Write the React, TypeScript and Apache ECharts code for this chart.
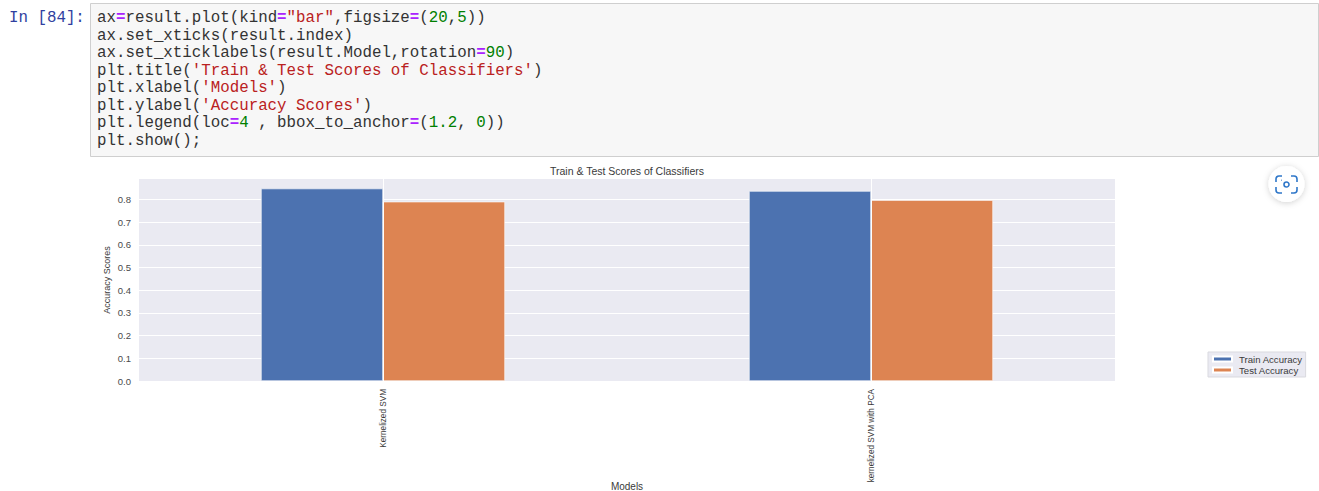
import React, { useEffect, useRef } from "react";
import * as echarts from "echarts";

const categories = ["Kernelized SVM", "kernelized SVM with PCA"];
const trainAccuracy = [0.848, 0.837];
const testAccuracy = [0.79, 0.797];
const seriesNames = ["Train Accuracy", "Test Accuracy"];
const codeLines = [
  'ax{o|=}result.plot(kind{o|=}{s|"bar"},figsize{o|=}({n|20},{n|5}))',
  "ax.set_xticks(result.index)",
  "ax.set_xticklabels(result.Model,rotation{o|=}{n|90})",
  "plt.title({s|'Train & Test Scores of Classifiers'})",
  "plt.xlabel({s|'Models'})",
  "plt.ylabel({s|'Accuracy Scores'})",
  "plt.legend(loc{o|=}{n|4} , bbox_to_anchor{o|=}({n|1.2}, {n|0}))",
  "plt.show();",
];
const promptText = "In [84]:";
const titleText = "Train & Test Scores of Classifiers";
const xName = "Models";
const yName = "Accuracy Scores";

const cameraIcon =
  "M6 0H3a3 3 0 0 0-3 3v3 M15 0h3a3 3 0 0 1 3 3v3 M0 11v3a3 3 0 0 0 3 3h3 M21 11v3a3 3 0 0 1-3 3h-3 M13 8.5a2.5 2.5 0 1 1-5 0a2.5 2.5 0 1 1 5 0 M5 4.2h.6";
echarts.graphic.registerShape("cameraIcon", echarts.graphic.extendPath(cameraIcon, {}) as any);

const SANS = "'Liberation Sans', Arial, sans-serif";
const MONO = "'Liberation Mono', monospace";
const CODE_SIZE = 15.8;

export default function App() {
  const ref = useRef<HTMLDivElement>(null);
  useEffect(() => {
    document.body.style.margin = "0";
    const chart = echarts.init(ref.current!, undefined, { renderer: "svg" });
    const richBase = { fontFamily: MONO, fontSize: CODE_SIZE };
    chart.setOption({
      animation: false,
      backgroundColor: "#ffffff",
      title: {
        text: titleText,
        left: 622,
        top: 160,
        textAlign: "center",
        textStyle: { fontFamily: SANS, fontSize: 10.5, fontWeight: "normal", color: "#3a3a3a" },
      },
      legend: {
        data: seriesNames,
        orient: "vertical",
        left: 1208,
        top: 352,
        padding: [2, 3, 2, 4],
        itemGap: 1,
        itemWidth: 19,
        itemHeight: 5,
        icon: "rect",
        backgroundColor: "#eaeaf2",
        borderColor: "#d9d9df",
        borderWidth: 1,
        textStyle: { fontFamily: SANS, fontSize: 9.6, color: "#3a3a3a", padding: [0, 0, 0, 2] },
      },
      grid: {
        left: 139,
        top: 179,
        width: 976,
        height: 202,
        show: true,
        backgroundColor: "#eaeaf2",
        borderWidth: 0,
        outerBoundsMode: "none",
      },
      xAxis: {
        type: "category",
        data: categories,
        name: xName,
        nameLocation: "middle",
        nameGap: 100,
        nameMoveOverlap: false,
        nameTextStyle: { fontFamily: SANS, fontSize: 10, color: "#3a3a3a" },
        axisLine: { show: false },
        axisTick: { show: false },
        axisLabel: {
          interval: 0,
          rotate: 90,
          margin: 8,
          fontFamily: SANS,
          fontSize: 8.2,
          color: "#3a3a3a",
        },
      },
      yAxis: {
        type: "value",
        min: 0,
        max: 0.89,
        interval: 0.1,
        name: yName,
        nameLocation: "middle",
        nameGap: 28,
        nameMoveOverlap: false,
        nameTextStyle: { fontFamily: SANS, fontSize: 9, color: "#3a3a3a" },
        axisLine: { show: false },
        axisTick: { show: false },
        axisLabel: {
          margin: 8,
          showMaxLabel: false,
          fontFamily: SANS,
          fontSize: 9.5,
          color: "#4a4a4a",
          formatter: (v: number) => v.toFixed(1),
        },
        splitLine: { show: true, showMaxLine: false, lineStyle: { color: "#ffffff", width: 1 } },
      },
      series: [
        {
          type: "line",
          data: [],
          silent: true,
          z: 1,
          markLine: {
            silent: true,
            symbol: "none",
            label: { show: false },
            lineStyle: { color: "#ffffff", width: 1, type: "solid" },
            data: categories.map((c) => ({ xAxis: c })),
          },
        },
        {
          name: seriesNames[0],
          type: "bar",
          data: trainAccuracy,
          barWidth: "25%",
          barGap: 0,
          z: 3,
          itemStyle: { color: "#4c72b0", borderColor: "#ffffff", borderWidth: 0.6 },
        },
        {
          name: seriesNames[1],
          type: "bar",
          data: testAccuracy,
          barWidth: "25%",
          barGap: 0,
          z: 3,
          itemStyle: { color: "#dd8452", borderColor: "#ffffff", borderWidth: 0.6 },
        },
      ],
      graphic: [
        {
          type: "rect",
          shape: { x: 90.5, y: 3.5, width: 1228, height: 153 },
          style: { fill: "#f7f7f7", stroke: "#cfcfcf", lineWidth: 1 },
        },
        {
          type: "text",
          x: 9,
          y: 18,
          style: {
            text: promptText,
            fontFamily: MONO,
            fontSize: CODE_SIZE,
            fill: "#303f9f",
            verticalAlign: "middle",
          },
        },
        ...codeLines.map((line, i) => ({
          type: "text",
          x: 97,
          y: 18 + i * 17.5,
          style: {
            text: line,
            fontFamily: MONO,
            fontSize: CODE_SIZE,
            fill: "#333333",
            verticalAlign: "middle",
            rich: {
              o: { ...richBase, fill: "#aa22ff", fontWeight: "bold" },
              s: { ...richBase, fill: "#ba2121" },
              n: { ...richBase, fill: "#008000" },
            },
          },
        })),
        {
          type: "circle",
          shape: { cx: 1286.5, cy: 184, r: 18 },
          style: {
            fill: "#ffffff",
            shadowBlur: 6,
            shadowColor: "rgba(0,0,0,0.18)",
            shadowOffsetY: 1,
          },
        },
        {
          type: "cameraIcon",
          x: 1276,
          y: 176,
          style: { fill: "none", stroke: "#2f77c9", lineWidth: 1.6 },
        },
      ],
    });
    return () => chart.dispose();
  }, []);
  return <div ref={ref} style={{ width: 1319, height: 491 }} />;
}
